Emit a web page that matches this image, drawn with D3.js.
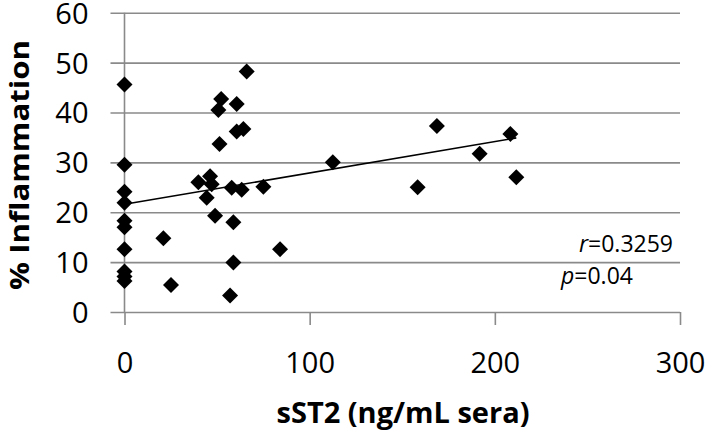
<!DOCTYPE html>
<html><head><meta charset="utf-8">
<script src="https://cdn.jsdelivr.net/npm/d3@7"></script>
<style>html,body{margin:0;padding:0;background:#fff;}svg{display:block;}</style>
</head><body>
<svg id="chart" width="709" height="432"></svg>
<script>
const sST2 = [0,0,0,0,0,0,0,0,0,0,
  21.0,25.1,39.9,46.2,47.1,44.4,48.9,57.9,63.3,58.8,58.8,57.0,75.0,84.0,
  66.0,52.2,50.7,60.6,60.6,64.2,51.3,
  112.5,168.7,158.3,191.8,208.4,211.6];
const inflammation = [45.6,29.5,24.1,21.9,18.3,17.0,12.6,8.1,7.1,6.2,
  14.8,5.4,26.0,27.2,25.6,22.9,19.3,24.9,24.5,18.0,9.9,3.3,25.1,12.6,
  48.2,42.7,40.5,41.7,36.2,36.7,33.7,
  30.0,37.3,25.0,31.7,35.7,27.0];
const trendX = [0, 211.6];
const trendY = [21.6, 34.9];
const xTicks = [0, 100, 200, 300];
const yTicks = [0, 10, 20, 30, 40, 50, 60];
const xTitle = "sST2 (ng/mL sera)";
const yTitle = "% Inflammation";
const statR = "0.3259";
const statP = "0.04";

const svg = d3.select("#chart");
const font = "'Open Sans', sans-serif";
const x = d3.scaleLinear().domain([0, 300]).range([124.5, 680]);
const y = d3.scaleLinear().domain([0, 60]).range([312, 12.7]);
const grid = "#8a8a8a";

// horizontal gridlines + y ticks
const yAxis = d3.axisLeft(y).tickValues(yTicks).tickSize(-(680 - 124.5)).tickSizeOuter(0);
const gy = svg.append("g").attr("transform", "translate(124.5,0)").call(yAxis);
gy.select(".domain").remove();
gy.selectAll(".tick line").attr("x1", -14).attr("stroke", grid).attr("stroke-width", 1.6);
gy.selectAll(".tick text").attr("font-family", font).attr("font-size", 29).attr("fill", "#000")
  .attr("dy", "0.36em").attr("x", -36);

// y axis vertical line
svg.append("line").attr("x1", x(0)).attr("x2", x(0)).attr("y1", y(60)).attr("y2", y(0))
  .attr("stroke", grid).attr("stroke-width", 1.6);

// x axis ticks
const xAxis = d3.axisBottom(x).tickValues(xTicks).tickSize(13).tickSizeOuter(0);
const gx = svg.append("g").attr("transform", "translate(0," + y(0) + ")").call(xAxis);
gx.select(".domain").remove();
gx.selectAll(".tick line").attr("stroke", grid).attr("stroke-width", 1.6);
gx.selectAll(".tick text").attr("font-family", font).attr("font-size", 29).attr("fill", "#000")
  .attr("dy", "0").attr("y", 61);

// trend line
svg.append("line")
  .attr("x1", x(trendX[0])).attr("y1", y(trendY[0]))
  .attr("x2", x(trendX[1])).attr("y2", y(trendY[1]))
  .attr("stroke", "#000").attr("stroke-width", 1.6);

// points
const sym = d3.symbol().type(d3.symbolSquare).size(128);
svg.append("g").selectAll("path").data(sST2.map((v, i) => [v, inflammation[i]])).join("path")
  .attr("d", sym)
  .attr("transform", d => `translate(${x(d[0])},${y(d[1])}) rotate(45)`)
  .attr("fill", "#000");

// titles
svg.append("text").attr("x", 403).attr("y", 423).attr("text-anchor", "middle")
  .attr("font-family", font).attr("font-weight", "bold").attr("font-size", 29).attr("fill", "#000")
  .text(xTitle);
svg.append("text").attr("transform", "translate(29,165) rotate(-90)").attr("text-anchor", "middle")
  .attr("font-family", font).attr("font-weight", "bold").attr("font-size", 27).attr("fill", "#000")
  .attr("textLength", 250).attr("lengthAdjust", "spacingAndGlyphs")
  .text(yTitle);

// stats
const tr = svg.append("text").attr("x", 673).attr("y", 252).attr("text-anchor", "end")
  .attr("font-family", font).attr("font-size", 23).attr("fill", "#000");
tr.append("tspan").attr("font-style", "italic").text("r");
tr.append("tspan").text("=" + statR);
const tp = svg.append("text").attr("x", 561).attr("y", 284).attr("text-anchor", "start")
  .attr("font-family", font).attr("font-size", 23).attr("fill", "#000");
tp.append("tspan").attr("font-style", "italic").text("p");
tp.append("tspan").text("=" + statP);
</script>
</body></html>
